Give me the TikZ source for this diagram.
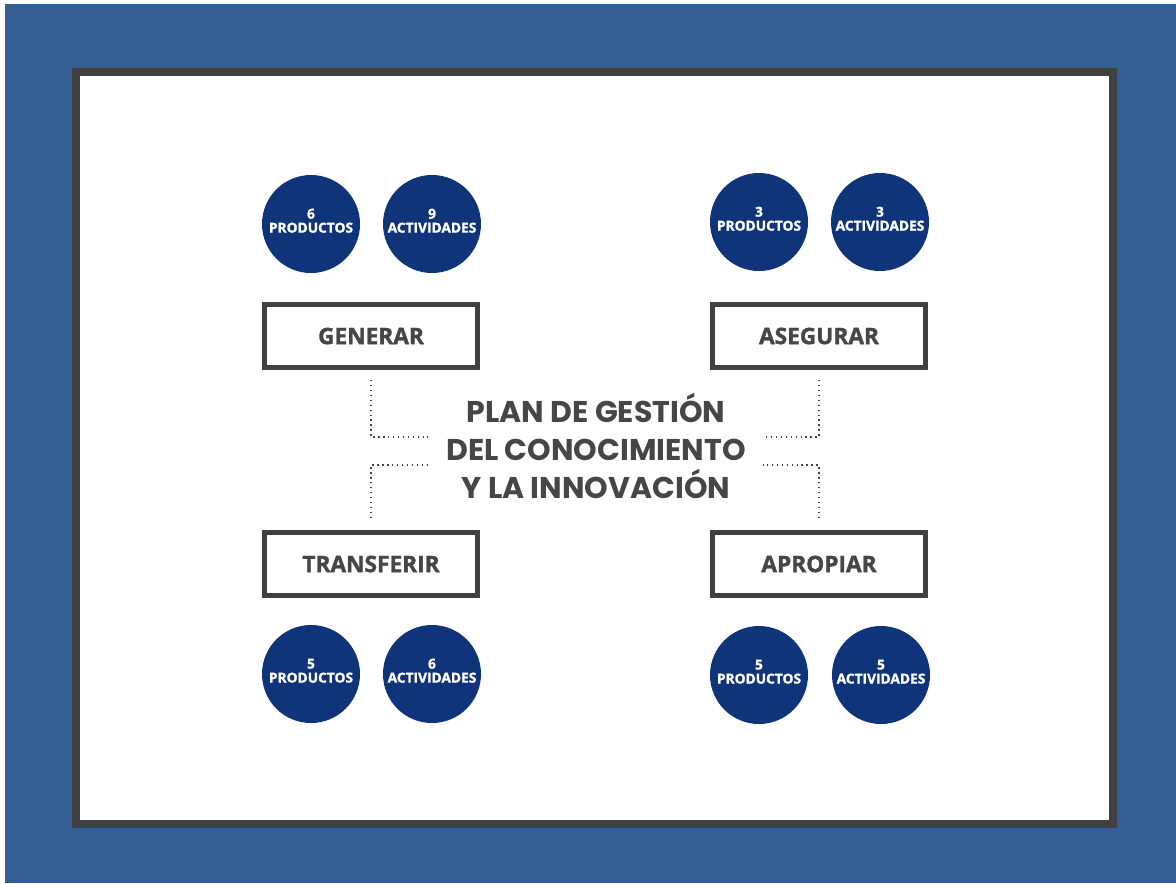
\documentclass[tikz,border=0pt]{standalone}
\usepackage{fontspec}
\setmainfont{Open Sans}[BoldFeatures={FakeBold=1.5}]
\newfontfamily\titlefont{Poppins}
\definecolor{bgblue}{RGB}{52,94,148}
\definecolor{navy}{RGB}{15,52,122}
\definecolor{darkframe}{RGB}{64,64,64}
\definecolor{ink}{RGB}{70,70,70}

\tikzset{every picture/.style={line width=0.75pt}}
\tikzset{
	stat/.style={circle, fill=navy, minimum size=73.5pt, inner sep=0pt, text=white, align=center, text depth=5pt, font=\bfseries\fontsize{10.3}{10.5}\selectfont},
	stage/.style={draw=darkframe, line width=3.75pt, fill=white, minimum width=159.75pt, minimum height=47.25pt, text=ink, font=\bfseries\fontsize{17}{20}\selectfont},
	dotline/.style={color=darkframe, line width=1.1pt, dash pattern={on 1.1pt off 2.6pt}}}

\begin{document}
\begin{tikzpicture}[x=0.75pt,y=0.75pt,yscale=-1,xscale=1]
	\useasboundingbox (0,0) rectangle (1176,883);
	%Shape: Background
	\fill [white] (0,0) rectangle (1176,883);
	\fill [bgblue] (5,4) rectangle (1176,883);
	%Shape: Frame
	\draw [darkframe, line width=6pt, fill=white] (76,72) rectangle (1113,824);

	% Title Node
	\node [text=ink, align=center, font=\titlefont\bfseries\fontsize{22.5}{28.5}\selectfont] (plan) at (596,446) {PLAN DE GESTIÓN\\DEL CONOCIMIENTO\\Y LA INNOVACIÓN};

	% Stage Nodes
	\node [stage] (gen) at (371,336) {GENERAR};
	\node [stage] (ase) at (819,336) {ASEGURAR};
	\node [stage] (tra) at (371,564) {TRANSFERIR};
	\node [stage] (apr) at (819,564) {APROPIAR};

	% Circle Nodes
	\node [stat] (genp) at (311,224) {6\\PRODUCTOS};
	\node [stat] (gena) at (432,224) {9\\ACTIVIDADES};
	\node [stat] (asep) at (759,222) {3\\PRODUCTOS};
	\node [stat] (asea) at (880,222) {3\\ACTIVIDADES};
	\node [stat] (trap) at (311,674) {5\\PRODUCTOS};
	\node [stat] (traa) at (432,674) {6\\ACTIVIDADES};
	\node [stat] (aprp) at (759,675) {5\\PRODUCTOS};
	\node [stat] (apra) at (881,675) {5\\ACTIVIDADES};

	%Dotted Lines
	\coordinate (gen-in) at (428,437);
	\coordinate (ase-in) at (763,437);
	\coordinate (tra-in) at (428,465);
	\coordinate (apr-in) at (763,465);
	\draw [dotline] ([yshift=7.5pt]gen.south) |- (gen-in);
	\draw [dotline] ([yshift=7.5pt]ase.south) |- (ase-in);
	\draw [dotline] ([yshift=-9pt]tra.north) |- (tra-in);
	\draw [dotline] ([yshift=-9pt]apr.north) |- (apr-in);
\end{tikzpicture}
\end{document}
